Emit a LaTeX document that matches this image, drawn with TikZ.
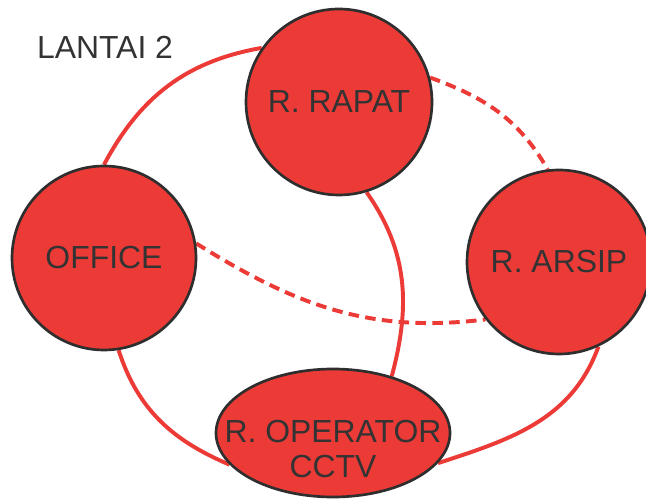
\documentclass[tikz,border=0pt]{standalone}
\usepackage{fontspec}
\setmainfont{Liberation Sans}
\usetikzlibrary{shapes,backgrounds}
\definecolor{roomred}{HTML}{EC3B37}
\definecolor{edgegray}{HTML}{2E2E2E}
\definecolor{txtgray}{HTML}{333333}

\begin{document}
\begin{tikzpicture}[
  room/.style={circle, draw=edgegray, line width=1.9pt, fill=roomred, minimum size=4.6cm, inner sep=0pt,
    align=center, text=txtgray, font=\fontsize{22.7}{24.9}\selectfont},
  link/.style={roomred, line width=2.8pt},
  weak/.style={link, dash pattern=on 7.5pt off 4.5pt}
]
  \useasboundingbox (0,0) rectangle (16.15,12.45);
  \node[text=txtgray, font=\fontsize{22.7}{24.9}\selectfont] (floor) at (2.625,11.275) {LANTAI 2};
  \node[room, minimum size=4.65cm] (rapat) at (8.475,9.9) {R. RAPAT};
  \node[room] (office) at (2.6,6.0) {OFFICE};
  \node[room] (arsip) at (13.975,5.9) {R. ARSIP};
  \node[room, ellipse, minimum width=5.85cm, minimum height=3.2cm,
    label={[label distance=0pt, yshift=-0.41cm, align=center, text=txtgray, font=\fontsize{22.7}{24.9}\selectfont]center:R. OPERATOR\\CCTV}] (operator) at (8.325,1.625) {};
  % links between rooms
  \begin{scope}[on background layer]
    \draw[link] (office.90) to[out=62, in=190] (rapat.145);
    \draw[weak] (rapat.15) to[out=-20, in=120] (arsip.97);
    \draw[link] (rapat.-73) to[out=-55, in=75] (operator.44);
    \draw[weak] (office.9) to[out=-32, in=187] (arsip.218);
    \draw[link] (office.-81) to[out=-72, in=157] (operator.197);
    \draw[link] (arsip.-65) to[out=-110, in=18] (operator.-16);
  \end{scope}
\end{tikzpicture}
\end{document}
